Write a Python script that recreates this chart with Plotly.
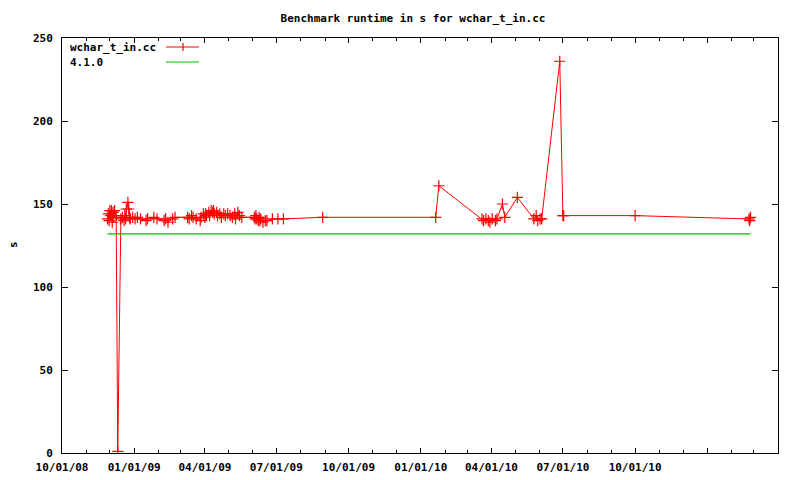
import plotly.graph_objects as go

# ---- data ----
run_dates = [
    "2008-11-28", "2008-11-29", "2008-11-30", "2008-12-01", "2008-12-02", "2008-12-03",
    "2008-12-04", "2008-12-05", "2008-12-06", "2008-12-07", "2008-12-09", "2008-12-11",
    "2008-12-15", "2008-12-17", "2008-12-19", "2008-12-20", "2008-12-21", "2008-12-22",
    "2008-12-24", "2008-12-25", "2008-12-26", "2008-12-27", "2008-12-30", "2009-01-02",
    "2009-01-05", "2009-01-09", "2009-01-16", "2009-01-18", "2009-01-26", "2009-01-30",
    "2009-02-08", "2009-02-10", "2009-02-13", "2009-02-19", "2009-02-22",
    "2009-03-10", "2009-03-12", "2009-03-15", "2009-03-17", "2009-03-21", "2009-03-26",
    "2009-03-27", "2009-03-30", "2009-04-01", "2009-04-02", "2009-04-03", "2009-04-06",
    "2009-04-07", "2009-04-09", "2009-04-11", "2009-04-12", "2009-04-13", "2009-04-16",
    "2009-04-17", "2009-04-20", "2009-04-22", "2009-04-25", "2009-04-27", "2009-04-30",
    "2009-05-03", "2009-05-06", "2009-05-09", "2009-05-10", "2009-05-13", "2009-05-15",
    "2009-05-18",
    "2009-06-03", "2009-06-04", "2009-06-05", "2009-06-06", "2009-06-08", "2009-06-09",
    "2009-06-10", "2009-06-11", "2009-06-14", "2009-06-17", "2009-06-19", "2009-06-26",
    "2009-07-03", "2009-07-10", "2009-08-29",
    "2010-01-20", "2010-01-24", "2010-03-20", "2010-03-22", "2010-03-25", "2010-03-28",
    "2010-03-30", "2010-04-02", "2010-04-06", "2010-04-08", "2010-04-15", "2010-04-18",
    "2010-05-04", "2010-05-25", "2010-05-28", "2010-05-30", "2010-06-02", "2010-06-04",
    "2010-06-27", "2010-07-01", "2010-07-02", "2010-10-01",
    "2011-02-23", "2011-02-24", "2011-02-25",
]
run_values = [
    141, 144, 140, 146, 143, 146,
    139, 145, 142, 146, 143, 1,
    141, 142, 140, 143, 141, 147,
    151, 147, 142, 141, 142, 141,
    142, 141, 140, 141, 142, 141,
    140, 141, 139, 141, 142,
    142, 141, 143, 142, 141, 140,
    142, 144, 142, 144, 143, 145,
    143, 146, 145, 146, 144, 145,
    143, 144, 142, 144, 143, 144,
    143, 142, 144, 141, 145, 143,
    142,
    142, 141, 143, 141, 140, 142,
    140, 141, 139, 140, 140, 141,
    141, 141, 142,
    142, 161, 141, 140, 141, 140,
    139, 141, 140, 141, 150, 142,
    154, 141, 143, 140, 141, 141,
    236, 143, 143, 143,
    141, 140, 142,
]
ref_dates = ["2008-11-28", "2011-02-25"]
ref_values = [132, 132]

series_names = ["wchar_t_in.cc", "4.1.0"]
x_tick_vals = ["2008-10-01", "2009-01-01", "2009-04-01", "2009-07-01", "2009-10-01",
               "2010-01-01", "2010-04-01", "2010-07-01", "2010-10-01", "2011-01-01"]
x_tick_text = ["10/01/08", "01/01/09", "04/01/09", "07/01/09", "10/01/09",
               "01/01/10", "04/01/10", "07/01/10", "10/01/10", ""]
x_range = ["2008-10-01", "2011-04-01"]
y_tick_vals = [0, 50, 100, 150, 200, 250]

RED = "#ff0000"
GREEN = "#00c000"
FONT = dict(family="DejaVu Sans Mono", size=11, color="black", weight="bold")

# page has an 8px body margin; figure is sized/offset to compensate
OFF = 8
FW, FH = 800 - OFF, 480 - OFF

fig = go.Figure()
fig.add_trace(go.Scatter(
    x=run_dates, y=run_values, mode="lines+markers", name=series_names[0],
    line=dict(color=RED, width=1),
    marker=dict(symbol="cross-thin", size=8, line=dict(color=RED, width=1.2)),
    showlegend=False,
))
fig.add_trace(go.Scatter(
    x=ref_dates, y=ref_values, mode="lines", name=series_names[1],
    line=dict(color=GREEN, width=1.2), showlegend=False,
))

# custom gnuplot-style key (text left, sample right); coords in screen px
L, R, T, B = 62, 778, 38, 453
W, H = R - L, B - T
def px(x):
    return (x - L) / W
def py(y):
    return (B - y) / H

key_rows = [(47, RED, True), (62, GREEN, False)]
for (yy, col, mk), name in zip(key_rows, series_names):
    fig.add_annotation(x=px(68), y=py(yy), xref="paper", yref="paper", text=name,
                       showarrow=False, xanchor="left", yanchor="middle", font=FONT)
    fig.add_shape(type="line", xref="paper", yref="paper", x0=px(166), x1=px(199),
                  y0=py(yy), y1=py(yy), line=dict(color=col, width=1.2))
    if mk:
        fig.add_shape(type="line", xref="paper", yref="paper", x0=px(183), x1=px(183),
                      y0=py(yy - 4), y1=py(yy + 4), line=dict(color=col, width=1.2))

fig.add_annotation(x=px(14), y=py(245), xref="paper", yref="paper", text="s",
                   showarrow=False, textangle=-90, font=FONT,
                   xanchor="center", yanchor="middle")

fig.update_layout(
    width=FW, height=FH,
    margin=dict(l=L - OFF, r=800 - R, t=T - OFF, b=480 - B, autoexpand=False),
    paper_bgcolor="white", plot_bgcolor="white",
    font=FONT,
    title=dict(text="Benchmark runtime in s for wchar_t_in.cc", x=(413 - OFF) / FW, xref="container",
               xanchor="center", y=1 - (18 - OFF) / FH, yref="container", yanchor="middle", font=FONT,
               automargin=False),
)
fig.update_xaxes(
    type="date", range=x_range, tickmode="array", tickvals=x_tick_vals, ticktext=x_tick_text,
    ticks="inside", ticklen=5, tickcolor="black", showgrid=False, zeroline=False,
    showline=True, linecolor="black", linewidth=1, mirror="ticks", tickfont=FONT,
    minor=dict(ticks="inside", ticklen=3, dtick="M1", tick0="2008-10-01", tickcolor="black", showgrid=False),
    ticklabelstandoff=4, automargin=False,
)
fig.update_yaxes(
    range=[0, 250], tickmode="array", tickvals=y_tick_vals,
    ticks="inside", ticklen=6, tickcolor="black", showgrid=False, zeroline=False,
    showline=True, linecolor="black", linewidth=1, mirror="ticks", tickfont=FONT,
    ticklabelstandoff=6, automargin=False,
)

fig.write_html("out.html")
